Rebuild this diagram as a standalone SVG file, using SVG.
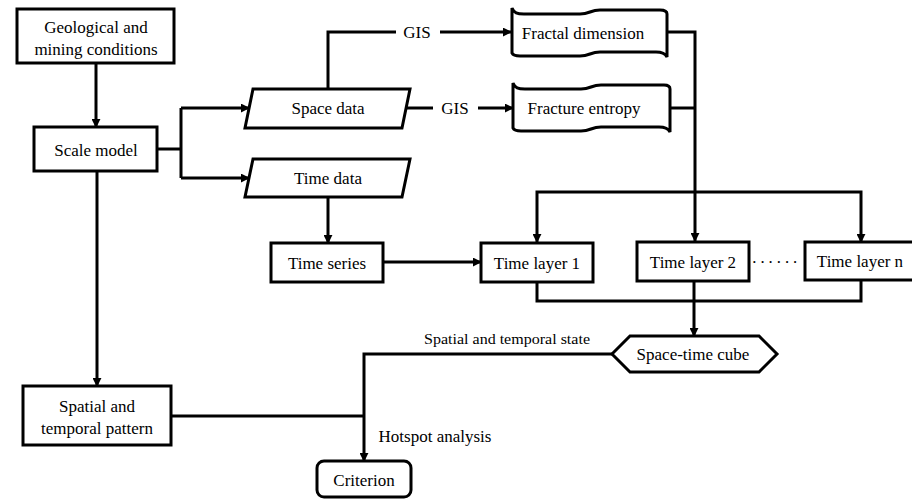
<svg xmlns="http://www.w3.org/2000/svg" width="912" height="499" viewBox="0 0 912 499" font-family="Liberation Serif, DejaVu Serif, serif" font-size="17">
<defs>
<style>
.box{fill:#fff;stroke:#000;stroke-width:3}
.ln{fill:none;stroke:#000;stroke-width:3}
text{fill:#000;text-anchor:middle;dominant-baseline:central}
</style>
<marker id="ar" viewBox="0 0 10 10" refX="9" refY="5" markerWidth="3" markerHeight="3" orient="auto" markerUnits="strokeWidth">
<path d="M0,0 L10,5 L0,10 Z" fill="#000"/>
</marker>
</defs>
<rect width="912" height="499" fill="#fff"/>
<g id="connectors">
<path class="ln" d="M96,63 L96,127" marker-end="url(#ar)"/>
<path class="ln" d="M157,149 L181,149"/>
<path class="ln" d="M181,108 L181,178"/>
<path class="ln" d="M181,108 L249,108" marker-end="url(#ar)"/>
<path class="ln" d="M181,178 L249,178" marker-end="url(#ar)"/>
<path class="ln" d="M328,89 L328,32 L396,32"/>
<path class="ln" d="M440,32 L511,32" marker-end="url(#ar)"/>
<path class="ln" d="M406,108 L433,108"/>
<path class="ln" d="M478,108 L513,108" marker-end="url(#ar)"/>
<path class="ln" d="M667,32 L695,32 L695,241" marker-end="url(#ar)"/>
<path class="ln" d="M670,108 L695,108"/>
<path class="ln" d="M695,192 L537,192 L537,242" marker-end="url(#ar)"/>
<path class="ln" d="M695,192 L861,192 L861,242" marker-end="url(#ar)"/>
<path class="ln" d="M328,197 L328,243" marker-end="url(#ar)"/>
<path class="ln" d="M383,262 L481,262" marker-end="url(#ar)"/>
<path class="ln" d="M537,282 L537,301 L861,301 L861,280"/>
<path class="ln" d="M694,281 L694,301"/>
<path class="ln" d="M694,301 L694,336" marker-end="url(#ar)"/>
<path class="ln" d="M612,354 L364,354 L364,461" marker-end="url(#ar)"/>
<path class="ln" d="M97,171 L97,386" marker-end="url(#ar)"/>
<path class="ln" d="M171,416 L364,416"/>
<text x="417" y="32">GIS</text>
<text x="455" y="108">GIS</text>
<text x="507" y="339" font-size="14" textLength="166" lengthAdjust="spacingAndGlyphs">Spatial and temporal state</text>
<text x="435" y="436">Hotspot analysis</text>
</g>
<g id="geo">
<rect class="box" x="17" y="9" width="157" height="54"/>
<text x="96" y="27">Geological and</text>
<text x="96" y="49">mining conditions</text>
</g>
<g id="scale">
<rect class="box" x="34" y="127" width="123" height="44"/>
<text x="96" y="150">Scale model</text>
</g>
<g id="space">
<path class="box" d="M253,89 L410,89 L402,128 L245,128 Z"/>
<text x="328" y="108">Space data</text>
</g>
<g id="timedata">
<path class="box" d="M253,159 L410,159 L402,197 L245,197 Z"/>
<text x="328" y="178">Time data</text>
</g>
<g id="fractal">
<path class="box" transform="translate(512,8)" d="M0,0 C2,5 5,6 12,6 L68,6 C78,6 78,2 88,2 L148,2 C153,2 155,4 155,6 L155,49 C153,45 150,44 144,44 L88,44 C78,44 78,48 68,48 L8,48 C4,48 1,47 0,45 Z"/>
<text x="583" y="33">Fractal dimension</text>
</g>
<g id="entropy">
<path class="box" transform="translate(513,83)" d="M0,0 C2,5 5,6 12,6 L68,6 C78,6 78,2 88,2 L151,2 C156,2 157,4 157,6 L157,49 C155,45 152,44 146,44 L88,44 C78,44 78,48 68,48 L8,48 C4,48 1,47 0,45 Z"/>
<text x="584" y="108">Fracture entropy</text>
</g>
<g id="timeseries">
<rect class="box" x="271" y="243" width="112" height="39"/>
<text x="327" y="263">Time series</text>
</g>
<g id="tl1">
<rect class="box" x="481" y="243" width="112" height="39"/>
<text x="537" y="263">Time layer 1</text>
</g>
<g id="tl2">
<rect class="box" x="637" y="242" width="112" height="39"/>
<text x="693" y="262">Time layer 2</text>
</g>
<g id="dots">
<text x="776" y="262" letter-spacing="2.5">······</text>
</g>
<g id="tln">
<rect class="box" x="805" y="242" width="115" height="38"/>
<text x="860" y="261">Time layer n</text>
</g>
<g id="cube">
<path class="box" d="M612,354 L630,336 L759,336 L777,354 L759,372 L630,372 Z"/>
<text x="693" y="354">Space-time cube</text>
</g>
<g id="pattern">
<rect class="box" x="23" y="386" width="148" height="59"/>
<text x="97" y="406">Spatial and</text>
<text x="97" y="428">temporal pattern</text>
</g>
<g id="criterion">
<rect class="box" x="317" y="461" width="94" height="36" rx="7"/>
<text x="364" y="480">Criterion</text>
</g>
</svg>
